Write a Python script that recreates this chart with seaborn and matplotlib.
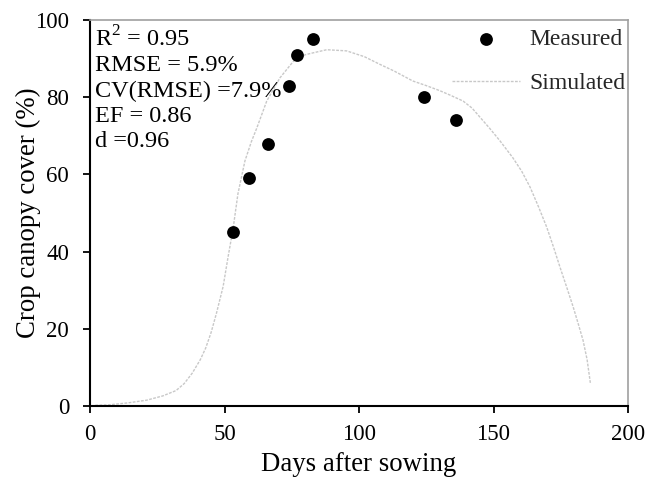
import matplotlib
matplotlib.use("Agg")
import matplotlib.pyplot as plt
import seaborn as sns
import pandas as pd

# Measured data
meas_days = [53, 59, 66, 74, 77, 83, 124, 136]
meas_cover = [45, 59, 68, 83, 91, 95, 80, 74]

# Simulated curve
sim_days = [2, 7, 14, 21, 27, 32, 35, 38, 41, 43, 45, 47, 49.5, 51.3, 53.2, 55, 57.6, 60,
            62, 65.7, 70.6, 75.6, 80, 83, 88, 95.4, 102, 107.8, 113, 120, 125, 130,
            134, 138.7, 142, 145, 148.5, 152.4, 157.2, 160.5, 163.6, 166.8, 169.8, 172.3,
            174.7, 177.2, 179.6, 181.5, 183.3, 184.8, 186]
sim_cover = [0.2, 0.3, 0.8, 1.5, 2.6, 4, 5.8, 8.5, 12, 15, 19, 24, 31, 38.5, 46, 55, 63.5, 68.5,
             72, 79, 85, 89.3, 91, 91.5, 92.3, 92, 90.5, 88.5, 86.8, 84.2, 83, 81.7,
             80.5, 79, 77.2, 74.8, 72, 68.7, 64.3, 60.8, 56.7, 51.5, 46.3, 41.2,
             36, 30.8, 25.7, 21.3, 17, 12, 6]

stats_lines = ["R$^2$ = 0.95", "RMSE = 5.9%", "CV(RMSE) =7.9%", "EF = 0.86", "d =0.96"]

sns.set_theme(style="white")
plt.rcParams["font.family"] = ["Liberation Serif", "DejaVu Serif"]
plt.rcParams["mathtext.fontset"] = "custom"
plt.rcParams["mathtext.rm"] = "Liberation Serif"

fig = plt.figure(figsize=(6.61, 4.86), dpi=100)
ax = fig.add_axes([90/661, 1-406/486, (628-90)/661, (406-20)/486])

sim_df = pd.DataFrame({"day": sim_days, "cover": sim_cover})
meas_df = pd.DataFrame({"day": meas_days, "cover": meas_cover})

sns.lineplot(data=sim_df, x="day", y="cover", ax=ax, color="#c8c8c8", lw=1.0,
             linestyle=(0, (2, 1)), label="Simulated", sort=False)
sns.scatterplot(data=meas_df, x="day", y="cover", ax=ax, color="black", s=85,
                edgecolor="black", linewidth=0, label="Measured", zorder=3)

ax.set_xlim(0, 200)
ax.set_ylim(0, 100)
ax.set_xticks([0, 50, 100, 150, 200])
ax.set_yticks([0, 20, 40, 60, 80, 100])
ax.tick_params(axis="both", which="both", direction="out", length=5, width=1.3,
               color="black", labelsize=16.5, bottom=True, left=True)
ax.tick_params(axis="y", pad=10)
ax.tick_params(axis="x", pad=8)
for lbl in ax.get_xticklabels() + ax.get_yticklabels():
    lbl.set_color("black")
ax.set_xlabel("Days after sowing", fontsize=19.3, color="black", labelpad=5)
ax.set_ylabel("Crop canopy cover (%)", fontsize=19.3, color="black", labelpad=-4)

for side in ["left", "bottom"]:
    ax.spines[side].set_color("black")
    ax.spines[side].set_linewidth(1.5)
for side in ["top", "right"]:
    ax.spines[side].set_color("#a0a0a0")
    ax.spines[side].set_linewidth(1.2)

ax.text(0.01, 0.985, "\n".join(stats_lines), transform=ax.transAxes, ha="left", va="top",
        fontsize=17.5, color="black", linespacing=1.26)

handles, labels = ax.get_legend_handles_labels()
order = [labels.index("Measured"), labels.index("Simulated")]
leg = ax.legend([handles[i] for i in order], [labels[i] for i in order],
                loc="upper right", bbox_to_anchor=(1.0, 0.983), frameon=False,
                fontsize=17, handlelength=2.9, labelspacing=0.95, borderaxespad=0.0,
                borderpad=0.1, handletextpad=0.4)

fig.savefig("out.png", dpi=100)
